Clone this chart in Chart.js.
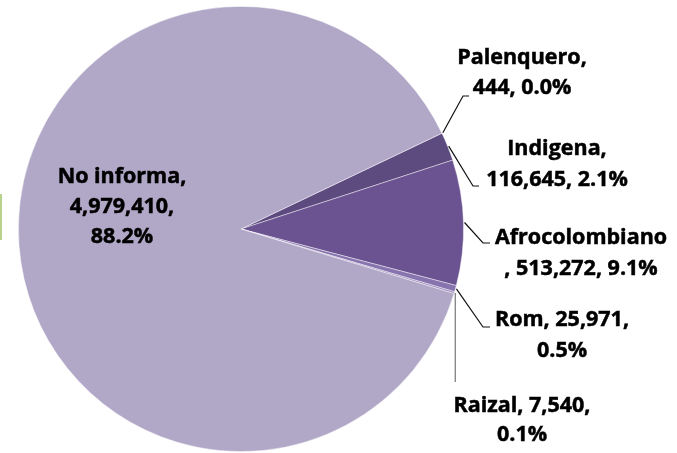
<!DOCTYPE html>
<html>
<head>
<meta charset="utf-8">
<script src="https://cdn.jsdelivr.net/npm/chart.js@4.4.1/dist/chart.umd.min.js"></script>
<style>
  html, body { margin: 0; padding: 0; background: #fff; }
  #wrap { position: relative; width: 677px; height: 453px; }
  #edge { position: absolute; left: 0px; top: 194px; width: 2px; height: 46px; background: #b9d38c; }
</style>
</head>
<body>
<div id="wrap">
  <canvas id="mycanvas" width="677" height="453"></canvas>
  <div id="edge"></div>
</div>
<script>
// clockwise from the Palenquero slice
var categories = ["Palenquero", "Indigena", "Afrocolombiano", "Rom", "Raizal", "No informa"];
var values = [444, 116645, 513272, 25971, 7540, 4979410];
var valueText = ["444", "116,645", "513,272", "25,971", "7,540", "4,979,410"];
var pctText = ["0.0%", "2.1%", "9.1%", "0.5%", "0.1%", "88.2%"];

var colors = ["#4a3a66", "#5d4a7f", "#6b5391", "#8773ad", "#9a88bc", "#b1a7c7"];

// label lines and where they sit
var labelLayout = [
  { lines: ["Palenquero,", "444, 0.0%"], x: 522, y: [64, 94], elbow: [463, 96], end: 469 },
  { lines: ["Indigena,", "116,645, 2.1%"], x: 557, y: [155, 186], elbow: [473, 186], end: 479 },
  { lines: ["Afrocolombiano", ", 513,272, 9.1%"], x: 581, y: [244, 275], elbow: [483, 243], end: 490 },
  { lines: ["Rom, 25,971,", "0.5%"], x: 562, y: [326, 357], elbow: [483, 327], end: 490 },
  { lines: ["Raizal, 7,540,", "0.1%"], x: 522, y: [412, 441], elbow: null, end: 382, vertical: true },
  { lines: ["No informa,", "4,979,410,", "88.2%"], x: 122, y: [183, 213, 243], inside: true }
];

var labelPlugin = {
  id: 'pieLabels',
  afterDatasetsDraw: function(chart) {
    var ctx = chart.ctx;
    var arcs = chart.getDatasetMeta(0).data;
    ctx.save();
    ctx.font = "bold 21.5px 'Open Sans'";
    ctx.fillStyle = "#000";
    ctx.textAlign = "center";
    ctx.textBaseline = "alphabetic";
    for (var i = 0; i < arcs.length; i++) {
      var a = arcs[i];
      var L = labelLayout[i];
      if (!L.inside) {
        var mid = (a.startAngle + a.endAngle) / 2;
        var sx = a.x + Math.cos(mid) * (a.outerRadius + 1);
        var sy = a.y + Math.sin(mid) * (a.outerRadius + 1);
        ctx.beginPath();
        ctx.lineWidth = 1.2;
        if (L.vertical) {
          ctx.strokeStyle = "#777";
          ctx.moveTo(sx, sy);
          ctx.lineTo(sx, L.end);
        } else {
          ctx.strokeStyle = "#111";
          ctx.moveTo(sx, sy);
          ctx.lineTo(L.elbow[0], L.elbow[1]);
          ctx.lineTo(L.end, L.elbow[1]);
        }
        ctx.stroke();
      }
      ctx.strokeStyle = "#000";
      ctx.lineWidth = 0.5;
      for (var j = 0; j < L.lines.length; j++) {
        ctx.fillText(L.lines[j], L.x, L.y[j]);
        ctx.strokeText(L.lines[j], L.x, L.y[j]);
      }
    }
    ctx.restore();
  }
};

var ctx = document.getElementById("mycanvas");

var PieGraph = new Chart(ctx, {
  type: 'pie',
  data: {
    labels: categories,
    datasets: [{
      data: values,
      backgroundColor: colors,
      borderColor: "rgba(255,255,255,0.55)",
      borderWidth: 0.8
    }]
  },
  options: {
    responsive: false,
    animation: false,
    rotation: 64.5,
    layout: { padding: { left: 18, right: 213, top: 6, bottom: 1 } },
    plugins: {
      legend: { display: false },
      tooltip: { enabled: false }
    }
  },
  plugins: [labelPlugin]
});
</script>
</body>
</html>
